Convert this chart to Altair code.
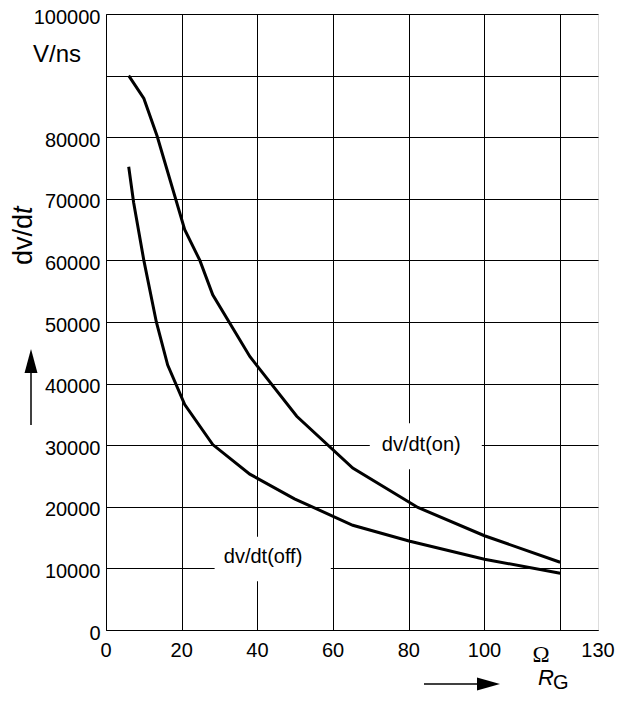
import altair as alt
import pandas as pd

# ---- data ----
rg_on = [6, 10, 13.5, 20.8, 24.8, 28.2, 38, 50.4, 65.2, 82.4, 100, 120]
dv_on = [90000, 86300, 80200, 65000, 60000, 54400, 44400, 34700, 26300, 19900, 15300, 11000]
rg_off = [6, 7.3, 10, 13.3, 16.3, 20.8, 28.2, 38, 49.8, 65.2, 80.3, 100, 120]
dv_off = [75200, 69400, 60000, 50000, 43000, 36600, 30100, 25300, 21300, 17000, 14400, 11500, 9200]

label_text = ["dv/dt(on)", "dv/dt(off)"]
label_x = [83.3, 41.5]
label_y = [30000, 11800]
box_x1 = [69.7, 28.7]
box_x2 = [99.3, 59.4]
box_y1 = [26100, 7900]
box_y2 = [33550, 15150]

x_ticks = list(range(0, 131, 10))
x_tick_labels = [0, 20, 40, 60, 80, 100, 130]
y_ticks = list(range(0, 100001, 10000))

df = pd.concat([
    pd.DataFrame({"RG": rg_on, "dv": dv_on, "curve": "on"}),
    pd.DataFrame({"RG": rg_off, "dv": dv_off, "curve": "off"}),
])
lab = pd.DataFrame({"t": label_text, "x": label_x, "y": label_y,
                    "x1": box_x1, "x2": box_x2, "y1": box_y1, "y2": box_y2})
xl = pd.DataFrame({"v": x_tick_labels, "t": [str(v) for v in x_tick_labels]})

FONT = "Liberation Sans"
TOP = 6  # plot top offset inside svg (page y = 8 + TOP)

xs = alt.Scale(domain=[0, 130], nice=False, zero=True)
ys = alt.Scale(domain=[0, 100000], nice=False, zero=True)

xaxis = alt.Axis(values=x_ticks, title=None, grid=True, ticks=False, tickSize=0,
                 labels=False, domainColor="black", gridColor="black", gridOpacity=1,
                 gridWidth=1)
yaxis = alt.Axis(values=y_ticks, title=None, grid=True, ticks=False, tickSize=0, format="d",
                 labelExpr="datum.value == 90000 ? '' : datum.label",
                 labelPadding=6, labelFontSize=20, labelFont=FONT, labelColor="black",
                 labelOffset=3, domainColor="black", gridColor="black", gridOpacity=1,
                 gridWidth=1, labelFlush=False, labelOverlap=False)

base = alt.Chart(df)

lines = base.mark_line(color="black", strokeWidth=3).encode(
    x=alt.X("RG:Q", scale=xs, axis=xaxis),
    y=alt.Y("dv:Q", scale=ys, axis=yaxis),
    detail="curve:N",
)

boxes = alt.Chart(lab).mark_rect(color="white").encode(
    x=alt.X("x1:Q", scale=xs), x2="x2:Q",
    y=alt.Y("y1:Q", scale=ys), y2="y2:Q",
)
texts = alt.Chart(lab).mark_text(fontSize=20, font=FONT, color="black",
                                 align="center", baseline="middle").encode(
    x=alt.X("x:Q", scale=xs), y=alt.Y("y:Q", scale=ys), text="t:N")

# offsets below were measured relative to a plot top at page y=10
D = 2 - TOP
xlabels = alt.Chart(xl).mark_text(fontSize=20, font=FONT, color="black",
                                  align="center", baseline="middle").encode(
    x=alt.X("v:Q", scale=xs), y=alt.value(641 + D), text="t:N")

one = pd.DataFrame({"a": [0]})
c = alt.Chart(one)

def txt(s, x, y, **kw):
    return c.mark_text(text=s, color="black", **kw).encode(x=alt.value(x), y=alt.value(y + D))

vns = txt("V/ns", -49, 45, fontSize=24, font=FONT, align="center", baseline="middle")
yt1 = txt("dv/d", -74, 255, fontSize=27, font=FONT, align="left", baseline="alphabetic", angle=270)
yt2 = txt("t", -74, 204, fontSize=27, font=FONT, fontStyle="italic", align="left",
          baseline="alphabetic", angle=270)
omega = txt("Ω", 435, 645, fontSize=23, font="Liberation Serif", align="center", baseline="middle")
r_t = txt("R", 432, 675, fontSize=22, font=FONT, fontStyle="italic", align="left", baseline="alphabetic")
g_t = txt("G", 447, 679, fontSize=20, font=FONT, align="left", baseline="alphabetic")

arrow_up_line = c.mark_rule(color="black", strokeWidth=1.5).encode(
    x=alt.value(-75), y=alt.value(415 + D), y2=alt.value(361 + D))
arrow_up_head = c.mark_point(filled=True, color="black", opacity=1, strokeWidth=0,
                             shape="M0,-1L0.54,1L-0.54,1Z", size=576).encode(
    x=alt.value(-75), y=alt.value(351 + D))
arrow_r_line = c.mark_rule(color="black", strokeWidth=1.5).encode(
    x=alt.value(318), x2=alt.value(380), y=alt.value(674 + D))
arrow_r_head = c.mark_point(filled=True, color="black", opacity=1, strokeWidth=0,
                            shape="M1,0L-1,-0.57L-1,0.57Z", size=529).encode(
    x=alt.value(382.5), y=alt.value(674 + D))

chart = alt.layer(
    lines, boxes, texts, xlabels, vns, yt1, yt2, omega, r_t, g_t,
    arrow_up_line, arrow_up_head, arrow_r_line, arrow_r_head
).properties(
    width=492, height=622 - TOP,
    autosize=alt.AutoSizeParams(type="none"),
    padding={"left": 98, "top": TOP, "right": 24, "bottom": 62},
).configure_view(stroke="black", strokeWidth=1).configure(background="white")

chart.save("out.html", embed_options={"renderer": "svg", "actions": False})
